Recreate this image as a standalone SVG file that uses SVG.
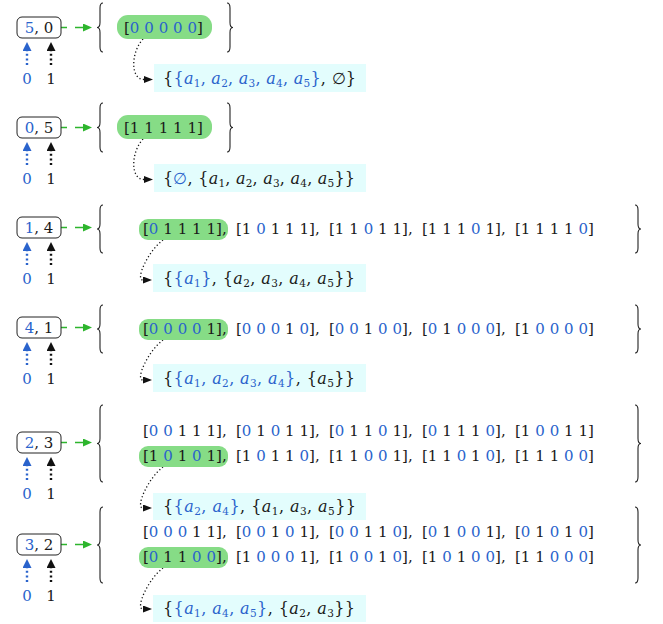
<svg xmlns="http://www.w3.org/2000/svg" width="663" height="624" viewBox="0 0 663 624">
<style>
.t{font-family:"DejaVu Serif","Liberation Serif",serif;font-size:15px;fill:#1a1a1a}
.nt{font-size:15px}
.r{font-size:16px}
.b{fill:#2a63cc}
.i{font-style:italic}
.s{font-size:10.5px}
.vec{word-spacing:0.1px}
.box{fill:#fff;stroke:#222;stroke-width:1}
.hl{fill:#86dc86}
.cy{fill:#e3fdfd}
.br{fill:none;stroke:#222;stroke-width:1.1}
.ga{fill:none;stroke:#2db52d;stroke-width:1.6;stroke-dasharray:6 8 10}
.ub{fill:none;stroke:#2a63cc;stroke-width:2.4;stroke-dasharray:2 2.6}
.uk{fill:none;stroke:#111;stroke-width:2.4;stroke-dasharray:2 2.6}
.dc{fill:none;stroke:#111;stroke-width:1.3;stroke-dasharray:1.2 2.4}
</style>
<defs>
<marker id="mg" markerUnits="userSpaceOnUse" markerWidth="10" markerHeight="8" refX="0" refY="4" orient="auto"><path d="M0 0 L9 4 L0 8 Z" fill="#2db52d"/></marker>
<marker id="mb" markerUnits="userSpaceOnUse" markerWidth="10" markerHeight="9" refX="0" refY="4.5" orient="auto"><path d="M0 0 L9 4.5 L0 9 Z" fill="#2a63cc"/></marker>
<marker id="mk" markerUnits="userSpaceOnUse" markerWidth="10" markerHeight="9" refX="0" refY="4.5" orient="auto"><path d="M0 0 L9 4.5 L0 9 Z" fill="#111"/></marker>
<marker id="md" markerUnits="userSpaceOnUse" markerWidth="10" markerHeight="7" refX="0" refY="3.5" orient="auto"><path d="M0 0 L9 3.5 L0 7 Z" fill="#111"/></marker>
</defs>

<g id="connectors">
<path class="ga" d="M61 27.5 H83" marker-end="url(#mg)"/>
<path class="ub" d="M27 65 V51" marker-end="url(#mb)"/>
<path class="uk" d="M51 65 V51" marker-end="url(#mk)"/>
<path class="dc" d="M143 39 C131 52 130 79.5 144 79.5" marker-end="url(#md)"/>
<path class="ga" d="M61 127.5 H83" marker-end="url(#mg)"/>
<path class="ub" d="M27 165 V151" marker-end="url(#mb)"/>
<path class="uk" d="M51 165 V151" marker-end="url(#mk)"/>
<path class="dc" d="M143 139 C131 152 130 179.5 144 179.5" marker-end="url(#md)"/>
<path class="ga" d="M61 227.5 H83" marker-end="url(#mg)"/>
<path class="ub" d="M27 265 V251" marker-end="url(#mb)"/>
<path class="uk" d="M51 265 V251" marker-end="url(#mk)"/>
<path class="dc" d="M163 240 C148 251 135 280 143 280" marker-end="url(#md)"/>
<path class="ga" d="M61 327.5 H83" marker-end="url(#mg)"/>
<path class="ub" d="M27 365 V351" marker-end="url(#mb)"/>
<path class="uk" d="M51 365 V351" marker-end="url(#mk)"/>
<path class="dc" d="M163 340 C148 351 135 380 143 380" marker-end="url(#md)"/>
<path class="ga" d="M61 442.5 H83" marker-end="url(#mg)"/>
<path class="ub" d="M27 480 V466" marker-end="url(#mb)"/>
<path class="uk" d="M51 480 V466" marker-end="url(#mk)"/>
<path class="dc" d="M163 467 C148 478 135 508 143 508" marker-end="url(#md)"/>
<path class="ga" d="M61 544.5 H83" marker-end="url(#mg)"/>
<path class="ub" d="M27 582 V568" marker-end="url(#mb)"/>
<path class="uk" d="M51 582 V568" marker-end="url(#mk)"/>
<path class="dc" d="M163 568 C148 579 135 609 143 609" marker-end="url(#md)"/>
</g>

<!-- Section 1 -->
<g id="node-5-0">
<rect class="box" x="17" y="17" width="44" height="21" rx="5"/>
<text class="t nt" x="39" y="33" text-anchor="middle"><tspan class="b">5</tspan>, 0</text>
</g>
<g id="inputs-1">
<text class="t b" x="27" y="84" text-anchor="middle">0</text>
<text class="t" x="51" y="84" text-anchor="middle">1</text>
</g>
<g id="set-5-0">
<path class="br" d="M103 3 Q100 3 100 8 V22.5 Q100 27.5 97 27.5 Q100 27.5 100 32.5 V47 Q100 52 103 52"/>
<path class="br" d="M227 3 Q230 3 230 8 V22.5 Q230 27.5 233 27.5 Q230 27.5 230 32.5 V47 Q230 52 227 52"/>
<rect class="hl" x="117" y="15" width="95" height="24" rx="11"/>
<text class="t vec" x="124" y="33">[<tspan class="b">0 0 0 0 0</tspan>]</text>
</g>
<g id="result-5-0">
<rect class="cy" x="154" y="64" width="212" height="28"/>
<text class="t r" x="163" y="84" textLength="193" lengthAdjust="spacing">{<tspan class="b">{<tspan class="i">a</tspan><tspan class="s" dy="3">1</tspan><tspan dy="-3">, </tspan><tspan class="i">a</tspan><tspan class="s" dy="3">2</tspan><tspan dy="-3">, </tspan><tspan class="i">a</tspan><tspan class="s" dy="3">3</tspan><tspan dy="-3">, </tspan><tspan class="i">a</tspan><tspan class="s" dy="3">4</tspan><tspan dy="-3">, </tspan><tspan class="i">a</tspan><tspan class="s" dy="3">5</tspan><tspan dy="-3">}</tspan></tspan>, ∅}</text>
</g>

<!-- Section 2 -->
<g id="node-0-5">
<rect class="box" x="17" y="117" width="44" height="21" rx="5"/>
<text class="t nt" x="39" y="133" text-anchor="middle"><tspan class="b">0</tspan>, 5</text>
</g>
<g id="inputs-2">
<text class="t b" x="27" y="184" text-anchor="middle">0</text>
<text class="t" x="51" y="184" text-anchor="middle">1</text>
</g>
<g id="set-0-5">
<path class="br" d="M103 103 Q100 103 100 108 V122.5 Q100 127.5 97 127.5 Q100 127.5 100 132.5 V147 Q100 152 103 152"/>
<path class="br" d="M227 103 Q230 103 230 108 V122.5 Q230 127.5 233 127.5 Q230 127.5 230 132.5 V147 Q230 152 227 152"/>
<rect class="hl" x="117" y="115" width="95" height="24" rx="11"/>
<text class="t vec" x="124" y="133">[1 1 1 1 1]</text>
</g>
<g id="result-0-5">
<rect class="cy" x="154" y="164" width="212" height="28"/>
<text class="t r" x="163" y="184" textLength="192" lengthAdjust="spacing">{<tspan class="b">∅</tspan>, {<tspan class="i">a</tspan><tspan class="s" dy="3">1</tspan><tspan dy="-3">, </tspan><tspan class="i">a</tspan><tspan class="s" dy="3">2</tspan><tspan dy="-3">, </tspan><tspan class="i">a</tspan><tspan class="s" dy="3">3</tspan><tspan dy="-3">, </tspan><tspan class="i">a</tspan><tspan class="s" dy="3">4</tspan><tspan dy="-3">, </tspan><tspan class="i">a</tspan><tspan class="s" dy="3">5</tspan><tspan dy="-3">}}</tspan></text>
</g>

<!-- Section 3 -->
<g id="node-1-4">
<rect class="box" x="17" y="217" width="44" height="21" rx="5"/>
<text class="t nt" x="39" y="233" text-anchor="middle"><tspan class="b">1</tspan>, 4</text>
</g>
<g id="inputs-3">
<text class="t b" x="27" y="284" text-anchor="middle">0</text>
<text class="t" x="51" y="284" text-anchor="middle">1</text>
</g>
<g id="set-1-4">
<path class="br" d="M103 205 Q100 205 100 210 V224 Q100 229 97 229 Q100 229 100 234 V248 Q100 253 103 253"/>
<path class="br" d="M635 205 Q638 205 638 210 V224 Q638 229 641 229 Q638 229 638 234 V248 Q638 253 635 253"/>
<rect class="hl" x="139" y="219" width="89" height="21" rx="9"/>
<text class="t vec" y="234"><tspan x="143">[<tspan class="b">0</tspan> 1 1 1 1],</tspan><tspan x="236">[1 <tspan class="b">0</tspan> 1 1 1],</tspan><tspan x="329">[1 1 <tspan class="b">0</tspan> 1 1],</tspan><tspan x="422">[1 1 1 <tspan class="b">0</tspan> 1],</tspan><tspan x="515">[1 1 1 1 <tspan class="b">0</tspan>]</tspan></text>
</g>
<g id="result-1-4">
<rect class="cy" x="153" y="264" width="213" height="28"/>
<text class="t r" x="163" y="284" textLength="192" lengthAdjust="spacing">{<tspan class="b">{<tspan class="i">a</tspan><tspan class="s" dy="3">1</tspan><tspan dy="-3">}</tspan></tspan>, {<tspan class="i">a</tspan><tspan class="s" dy="3">2</tspan><tspan dy="-3">, </tspan><tspan class="i">a</tspan><tspan class="s" dy="3">3</tspan><tspan dy="-3">, </tspan><tspan class="i">a</tspan><tspan class="s" dy="3">4</tspan><tspan dy="-3">, </tspan><tspan class="i">a</tspan><tspan class="s" dy="3">5</tspan><tspan dy="-3">}}</tspan></text>
</g>

<!-- Section 4 -->
<g id="node-4-1">
<rect class="box" x="17" y="317" width="44" height="21" rx="5"/>
<text class="t nt" x="39" y="333" text-anchor="middle"><tspan class="b">4</tspan>, 1</text>
</g>
<g id="inputs-4">
<text class="t b" x="27" y="384" text-anchor="middle">0</text>
<text class="t" x="51" y="384" text-anchor="middle">1</text>
</g>
<g id="set-4-1">
<path class="br" d="M103 305 Q100 305 100 310 V324 Q100 329 97 329 Q100 329 100 334 V348 Q100 353 103 353"/>
<path class="br" d="M635 305 Q638 305 638 310 V324 Q638 329 641 329 Q638 329 638 334 V348 Q638 353 635 353"/>
<rect class="hl" x="139" y="319" width="89" height="21" rx="9"/>
<text class="t vec" y="334"><tspan x="143">[<tspan class="b">0 0 0 0</tspan> 1],</tspan><tspan x="236">[<tspan class="b">0 0 0</tspan> 1 <tspan class="b">0</tspan>],</tspan><tspan x="329">[<tspan class="b">0 0</tspan> 1 <tspan class="b">0 0</tspan>],</tspan><tspan x="422">[<tspan class="b">0</tspan> 1 <tspan class="b">0 0 0</tspan>],</tspan><tspan x="515">[1 <tspan class="b">0 0 0 0</tspan>]</tspan></text>
</g>
<g id="result-4-1">
<rect class="cy" x="153" y="364" width="213" height="28"/>
<text class="t r" x="163" y="384" textLength="192" lengthAdjust="spacing">{<tspan class="b">{<tspan class="i">a</tspan><tspan class="s" dy="3">1</tspan><tspan dy="-3">, </tspan><tspan class="i">a</tspan><tspan class="s" dy="3">2</tspan><tspan dy="-3">, </tspan><tspan class="i">a</tspan><tspan class="s" dy="3">3</tspan><tspan dy="-3">, </tspan><tspan class="i">a</tspan><tspan class="s" dy="3">4</tspan><tspan dy="-3">}</tspan></tspan>, {<tspan class="i">a</tspan><tspan class="s" dy="3">5</tspan><tspan dy="-3">}}</tspan></text>
</g>

<!-- Section 5 -->
<g id="node-2-3">
<rect class="box" x="17" y="432" width="44" height="21" rx="5"/>
<text class="t nt" x="39" y="448" text-anchor="middle"><tspan class="b">2</tspan>, 3</text>
</g>
<g id="inputs-5">
<text class="t b" x="27" y="499" text-anchor="middle">0</text>
<text class="t" x="51" y="499" text-anchor="middle">1</text>
</g>
<g id="set-2-3">
<path class="br" d="M103 405 Q100 405 100 410 V438.5 Q100 443.5 97 443.5 Q100 443.5 100 448.5 V477 Q100 482 103 482"/>
<path class="br" d="M635 405 Q638 405 638 410 V438.5 Q638 443.5 641 443.5 Q638 443.5 638 448.5 V477 Q638 482 635 482"/>
<rect class="hl" x="139" y="446" width="89" height="21" rx="9"/>
<text class="t vec" y="436"><tspan x="143">[<tspan class="b">0 0</tspan> 1 1 1],</tspan><tspan x="236">[<tspan class="b">0</tspan> 1 <tspan class="b">0</tspan> 1 1],</tspan><tspan x="329">[<tspan class="b">0</tspan> 1 1 <tspan class="b">0</tspan> 1],</tspan><tspan x="422">[<tspan class="b">0</tspan> 1 1 1 <tspan class="b">0</tspan>],</tspan><tspan x="515">[1 <tspan class="b">0 0</tspan> 1 1]</tspan></text>
<text class="t vec" y="461"><tspan x="143">[1 <tspan class="b">0</tspan> 1 <tspan class="b">0</tspan> 1],</tspan><tspan x="236">[1 <tspan class="b">0</tspan> 1 1 <tspan class="b">0</tspan>],</tspan><tspan x="329">[1 1 <tspan class="b">0 0</tspan> 1],</tspan><tspan x="422">[1 1 <tspan class="b">0</tspan> 1 <tspan class="b">0</tspan>],</tspan><tspan x="515">[1 1 1 <tspan class="b">0 0</tspan>]</tspan></text>
</g>
<g id="result-2-3">
<rect class="cy" x="153" y="493" width="213" height="27"/>
<text class="t r" x="163" y="512" textLength="193" lengthAdjust="spacing">{<tspan class="b">{<tspan class="i">a</tspan><tspan class="s" dy="3">2</tspan><tspan dy="-3">, </tspan><tspan class="i">a</tspan><tspan class="s" dy="3">4</tspan><tspan dy="-3">}</tspan></tspan>, {<tspan class="i">a</tspan><tspan class="s" dy="3">1</tspan><tspan dy="-3">, </tspan><tspan class="i">a</tspan><tspan class="s" dy="3">3</tspan><tspan dy="-3">, </tspan><tspan class="i">a</tspan><tspan class="s" dy="3">5</tspan><tspan dy="-3">}}</tspan></text>
</g>

<!-- Section 6 -->
<g id="node-3-2">
<rect class="box" x="17" y="534" width="44" height="21" rx="5"/>
<text class="t nt" x="39" y="550" text-anchor="middle"><tspan class="b">3</tspan>, 2</text>
</g>
<g id="inputs-6">
<text class="t b" x="27" y="601" text-anchor="middle">0</text>
<text class="t" x="51" y="601" text-anchor="middle">1</text>
</g>
<g id="set-3-2">
<path class="br" d="M103 507 Q100 507 100 512 V540 Q100 545 97 545 Q100 545 100 550 V578 Q100 583 103 583"/>
<path class="br" d="M635 507 Q638 507 638 512 V540 Q638 545 641 545 Q638 545 638 550 V578 Q638 583 635 583"/>
<rect class="hl" x="139" y="547" width="89" height="21" rx="9"/>
<text class="t vec" y="537"><tspan x="143">[<tspan class="b">0 0 0</tspan> 1 1],</tspan><tspan x="236">[<tspan class="b">0 0</tspan> 1 <tspan class="b">0</tspan> 1],</tspan><tspan x="329">[<tspan class="b">0 0</tspan> 1 1 <tspan class="b">0</tspan>],</tspan><tspan x="422">[<tspan class="b">0</tspan> 1 <tspan class="b">0 0</tspan> 1],</tspan><tspan x="515">[<tspan class="b">0</tspan> 1 <tspan class="b">0</tspan> 1 <tspan class="b">0</tspan>]</tspan></text>
<text class="t vec" y="562"><tspan x="143">[<tspan class="b">0</tspan> 1 1 <tspan class="b">0 0</tspan>],</tspan><tspan x="236">[1 <tspan class="b">0 0 0</tspan> 1],</tspan><tspan x="329">[1 <tspan class="b">0 0</tspan> 1 <tspan class="b">0</tspan>],</tspan><tspan x="422">[1 <tspan class="b">0</tspan> 1 <tspan class="b">0 0</tspan>],</tspan><tspan x="515">[1 1 <tspan class="b">0 0 0</tspan>]</tspan></text>
</g>
<g id="result-3-2">
<rect class="cy" x="153" y="595" width="213" height="27"/>
<text class="t r" x="163" y="614" textLength="192" lengthAdjust="spacing">{<tspan class="b">{<tspan class="i">a</tspan><tspan class="s" dy="3">1</tspan><tspan dy="-3">, </tspan><tspan class="i">a</tspan><tspan class="s" dy="3">4</tspan><tspan dy="-3">, </tspan><tspan class="i">a</tspan><tspan class="s" dy="3">5</tspan><tspan dy="-3">}</tspan></tspan>, {<tspan class="i">a</tspan><tspan class="s" dy="3">2</tspan><tspan dy="-3">, </tspan><tspan class="i">a</tspan><tspan class="s" dy="3">3</tspan><tspan dy="-3">}}</tspan></text>
</g>
</svg>
